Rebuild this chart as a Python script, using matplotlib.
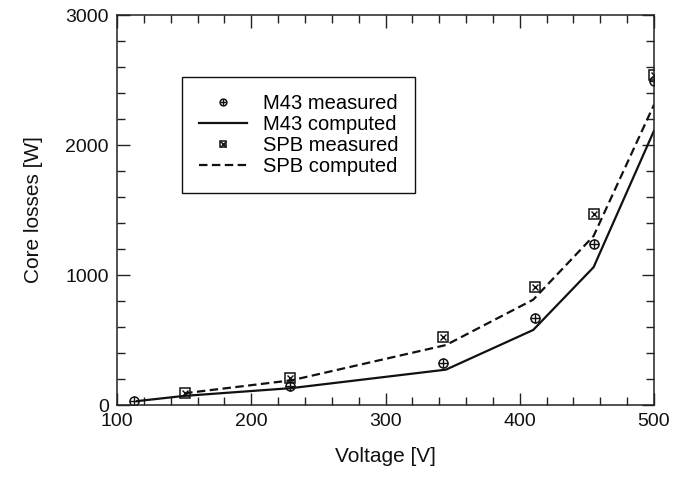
import matplotlib
matplotlib.use("Agg")
import matplotlib.pyplot as plt
from matplotlib.legend_handler import HandlerTuple
from matplotlib.ticker import MultipleLocator

plt.rcParams['font.family'] = ['Liberation Sans', 'DejaVu Sans']

# Data
m43_meas_v = [113, 229, 343, 411, 455, 500]
m43_meas_p = [33, 146, 320, 667, 1240, 2490]
m43_comp_v = [115, 150, 230, 345, 410, 455, 500]
m43_comp_p = [30, 70, 130, 272, 577, 1060, 2110]
spb_meas_v = [151, 229, 343, 411, 455, 500]
spb_meas_p = [90, 205, 525, 910, 1470, 2540]
spb_comp_v = [150, 230, 345, 410, 455, 500]
spb_comp_p = [90, 190, 461, 810, 1300, 2310]

fig = plt.figure(figsize=(6.86, 4.8), dpi=100)
ax = fig.add_axes([117/686, 1-405/480, (654-117)/686, (405-15)/480])

lw = 1.6
ms = 6.5
l_m43c, = ax.plot(m43_comp_v, m43_comp_p, color='#111111', lw=lw, ls='-')
l_spbc, = ax.plot(spb_comp_v, spb_comp_p, color='#111111', lw=lw, ls=(0, (3.8, 2.0)))

c1, = ax.plot(m43_meas_v, m43_meas_p, ls='none', marker='o', ms=ms, mfc='none',
              mec='#111111', mew=1.1)
c2, = ax.plot(m43_meas_v, m43_meas_p, ls='none', marker='+', ms=ms, mec='#111111', mew=1.0)
s1, = ax.plot(spb_meas_v, spb_meas_p, ls='none', marker='s', ms=ms, mfc='none',
              mec='#111111', mew=1.1)
s2, = ax.plot(spb_meas_v, spb_meas_p, ls='none', marker='x', ms=ms*0.75, mec='#111111', mew=1.0)

ax.set_xlim(100, 500)
ax.set_ylim(0, 3000)
ax.xaxis.set_major_locator(MultipleLocator(100))
ax.xaxis.set_minor_locator(MultipleLocator(20))
ax.yaxis.set_major_locator(MultipleLocator(1000))
ax.yaxis.set_minor_locator(MultipleLocator(200))
ax.tick_params(which='both', direction='in', top=True, right=True, width=1.0,
               colors='#222222', labelsize=14, labelcolor='#111111')
ax.tick_params(which='major', length=9, pad=6)
ax.tick_params(which='minor', length=6)
for sp in ax.spines.values():
    sp.set_linewidth(1.1)
    sp.set_color('#222222')

ax.set_xlabel('Voltage [V]', fontsize=15, labelpad=12, color='#111111')
ax.set_ylabel('Core losses [W]', fontsize=15, labelpad=16, color='#111111')

leg = ax.legend([(c1, c2), l_m43c, (s1, s2), l_spbc],
                ['M43 measured', 'M43 computed', 'SPB measured', 'SPB computed'],
                handler_map={tuple: HandlerTuple(ndivide=1)}, numpoints=1,
                loc='upper left', bbox_to_anchor=(0.121, 0.841), borderaxespad=0,
                fontsize=14.5, frameon=True, fancybox=False, edgecolor='#111111',
                framealpha=1, handlelength=2.4, handletextpad=0.75,
                labelspacing=0.1, borderpad=0.85, markerscale=0.75)
leg.get_frame().set_linewidth(1.0)

fig.savefig('out.png', dpi=100)
